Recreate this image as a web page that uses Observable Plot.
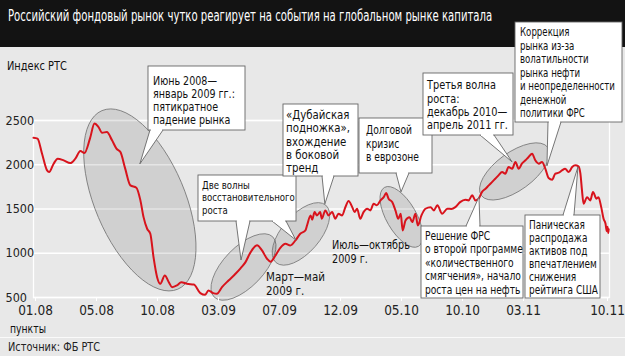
<!DOCTYPE html>
<html><head><meta charset="utf-8">
<script src="https://cdn.jsdelivr.net/npm/d3@7"></script>
<script src="https://cdn.jsdelivr.net/npm/@observablehq/plot@0.6"></script>
<style>
html,body{margin:0;padding:0;background:#e8e8e8;}
#wrap{position:relative;width:625px;height:356px;overflow:hidden;background:#e8e8e8;
  font-family:"Liberation Sans Narrow","DejaVu Sans Condensed","Arial Narrow",sans-serif;}
#title{height:47px;background:#131313;color:#fff;box-sizing:border-box;padding:6px 0 0 8px;font-size:16px;white-space:nowrap;}
#title span,#source span{display:inline-block;transform-origin:0 50%;white-space:nowrap;}
#chart svg{display:block;overflow:visible;}
#source{position:absolute;left:0;top:337px;width:625px;height:19px;border-top:1.5px solid #fafafa;
  box-sizing:border-box;padding-left:8px;font-size:13px;line-height:17px;color:#222;}
</style></head>
<body>
<div id="wrap">
  <div id="title"><span data-fit="484">Российский фондовый рынок чутко реагирует на события на глобальном рынке капитала</span></div>
  <div id="chart"></div>
  <div id="source"><span data-fit="92">Источник: ФБ РТС</span></div>
</div>
<script>
// ---------- data ----------
const dates = ["2007-12-28","2008-01-05","2008-01-14","2008-01-24","2008-01-28","2008-02-06","2008-02-14","2008-02-26","2008-03-10","2008-03-20","2008-03-30","2008-04-07","2008-04-18","2008-04-27","2008-05-06","2008-05-15","2008-05-27","2008-06-09","2008-06-20","2008-06-30","2008-07-12","2008-07-25","2008-08-09","2008-08-19","2008-08-27","2008-09-05","2008-09-13","2008-09-21","2008-09-30","2008-10-08","2008-10-19","2008-10-29","2008-11-06","2008-11-18","2008-11-29","2008-12-13","2008-12-30","2009-01-15","2009-01-27","2009-02-04","2009-02-16","2009-02-25","2009-03-08","2009-03-21","2009-04-04","2009-04-14","2009-04-24","2009-05-04","2009-05-17","2009-05-27","2009-06-06","2009-06-13","2009-06-23","2009-07-03","2009-07-16","2009-07-28","2009-08-10","2009-08-22","2009-09-04","2009-09-08","2009-09-17","2009-09-21","2009-09-27","2009-10-03","2009-10-11","2009-10-15","2009-10-24","2009-11-01","2009-11-10","2009-11-18","2009-11-26","2009-12-05","2009-12-13","2009-12-21","2009-12-30","2010-01-05","2010-01-11","2010-01-19","2010-01-27","2010-02-05","2010-02-13","2010-02-21","2010-03-01","2010-03-10","2010-03-18","2010-03-24","2010-03-30","2010-04-08","2010-04-16","2010-04-23","2010-04-29","2010-05-04","2010-05-11","2010-05-21","2010-05-28","2010-06-05","2010-06-11","2010-06-20","2010-06-30","2010-07-13","2010-07-21","2010-07-30","2010-08-11","2010-08-24","2010-09-03","2010-09-13","2010-09-25","2010-10-08","2010-10-16","2010-10-25","2010-11-02","2010-11-10","2010-11-18","2010-11-27","2010-12-05","2010-12-13","2010-12-21","2010-12-29","2011-01-07","2011-01-15","2011-01-23","2011-02-01","2011-02-09","2011-02-17","2011-02-25","2011-03-06","2011-03-14","2011-03-23","2011-03-31","2011-04-09","2011-04-17","2011-04-26","2011-05-04","2011-05-13","2011-05-21","2011-05-30","2011-06-07","2011-06-15","2011-06-24","2011-07-03","2011-07-11","2011-07-19","2011-07-24","2011-07-28","2011-08-01","2011-08-10","2011-08-18","2011-08-25","2011-09-03","2011-09-08","2011-09-15","2011-09-21","2011-09-26","2011-09-29","2011-10-01","2011-10-03","2011-10-04"];
const values = [2306,2295,2125,1936,1917,2012,2069,2050,2019,2069,2155,2132,2295,2465,2426,2362,2370,2276,2182,2143,1956,1767,1741,1600,1408,1277,1220,956,730,655,749,673,617,636,673,655,647,549,530,579,549,542,617,692,768,830,900,1010,1090,1032,938,905,975,1060,1107,1088,1145,1220,1258,1314,1427,1379,1465,1427,1465,1390,1484,1427,1465,1390,1447,1427,1520,1590,1521,1465,1503,1390,1465,1503,1484,1560,1541,1597,1634,1680,1616,1578,1484,1390,1447,1258,1371,1408,1352,1447,1314,1427,1503,1521,1484,1541,1447,1503,1500,1521,1578,1605,1597,1654,1597,1616,1691,1729,1767,1804,1842,1880,1917,1899,1974,1955,2030,1955,2012,2050,2087,2125,2050,2012,2030,1950,1850,1830,1900,1910,1936,1955,1917,1974,1993,1982,1899,1710,1560,1634,1597,1691,1616,1634,1521,1390,1333,1250,1300,1230,1270];
const xTickDates = ["2008-01-01","2008-05-01","2008-10-01","2009-03-01","2009-07-01","2009-12-01","2010-05-01","2010-10-01","2011-03-01","2011-10-01"];
const xTickLabels = ["01.08","05.08","10.08","03.09","07.09","12.09","05.10","10.10","03.11","10.11"];
const yTicks = [500, 1000, 1500, 2000, 2500];
const yTitle = "Индекс РТС";
const unitLabel = "пункты";

// annotation texts
const noteJune = ["Июнь 2008—", "январь 2009 гг.:", "пятикратное", "падение рынка"];
const noteTwoWaves = ["Две волны", "восстановительного", "роста"];
const noteDubai = ["«Дубайская", "подножка»,", "вхождение", "в боковой", "тренд"];
const noteDebt = ["Долговой", "кризис", "в еврозоне"];
const noteThird = ["Третья волна", "роста:", "декабрь 2010—", "апрель 2011 гг."];
const noteCorr = ["Коррекция", "рынка из-за", "волатильности", "рынка нефти", "и неопределенности", "денежной", "политики ФРС"];
const noteFed = ["Решение ФРС", "о второй программе", "«количественного", "смягчения», начало", "роста цен на нефть"];
const notePanic = ["Паническая", "распродажа", "активов под", "впечатлением", "снижения", "рейтинга США"];
const labelMarch = ["Март—май", "2009 г."];
const labelJuly = ["Июль—октябрь", "2009 г."];

// highlighted periods (centre date, centre value)
const periodDates = ["2008-08-19", "2009-04-21", "2009-08-25", "2010-05-02", "2011-02-08"];
const periodValues = [1597, 839, 1213, 1405, 1919];

// ---------- layout (page px) ----------
const OFF = 47;                 // svg top on page
const tickPx = [35, 96, 157, 218, 279, 340, 401, 462, 523, 607];
const ellipseShape = [[97, 45, 67], [42, 20, -46], [38, 19, -49], [34, 15, 60], [41, 19, -36]];
const boxes = [
  {lines: noteJune, b: [148, 66, 245, 130], tx: 153, ty: 81, lh: 13, fit: 82, size: 11.5,
   ptr: [{side: 1, base: [150, 163], tip: ["2008-08-19", 2004]}]},
  {lines: noteTwoWaves, b: [198, 175, 296, 221], tx: 202, ty: 185, lh: 12.5, fit: 93, size: 11,
   ptr: [{side: 1, base: [236, 250], tip: ["2009-04-16", 918]}, {side: 1, base: [272, 286], tip: ["2009-08-12", 1145]}]},
  {lines: noteDubai, b: [283, 104, 358, 176], tx: 286, ty: 115, lh: 13.3, fit: 64, size: 11.5,
   ptr: [{side: 1, base: [322, 334], tip: ["2009-10-24", 1552]}]},
  {lines: noteDebt, b: [359, 118, 432, 173], tx: 366, ty: 130, lh: 13.5, fit: 53, size: 11.5,
   ptr: [{side: 1, base: [396, 409], tip: ["2010-05-01", 1688]}]},
  {lines: noteThird, b: [423, 73, 513, 135], tx: 427, ty: 85, lh: 13.4, fit: 82, size: 11.5,
   ptr: [{side: 1, base: [480, 494], tip: ["2011-02-02", 2027]}]},
  {lines: noteCorr, b: [515, 22, 622, 122], tx: 520, ty: 32, lh: 13.5, fit: 95, size: 11.5,
   ptr: [{side: 1, base: [548, 561], tip: ["2011-05-01", 1982]}]},
  {lines: noteFed, b: [421, 226, 523, 298], tx: 425, ty: 235.5, lh: 13.5, fit: 98, size: 11.5,
   ptr: [{side: 0, base: [466, 480], tip: ["2010-11-12", 1631]}]},
  {lines: notePanic, b: [525, 215, 600, 298], tx: 529, ty: 225, lh: 13, fit: 69, size: 11.5,
   ptr: [{side: 0, base: [563, 574], tip: ["2011-07-19", 1970]}]}
];
const freeLabels = [
  {lines: labelMarch, tx: 266, ty: 276.5, lh: 14, fit: 59, size: 12},
  {lines: labelJuly, tx: 332, ty: 245, lh: 14, fit: 78, size: 12},
  {lines: [yTitle], tx: 7, ty: 65, lh: 0, fit: 60, size: 13},
  {lines: [unitLabel], tx: 10, ty: 329, lh: 0, fit: 36, size: 12}
];

const FONT = '"Liberation Sans Narrow","DejaVu Sans Condensed","Arial Narrow",sans-serif';
const table = dates.map((d, i) => ({date: new Date(d), value: values[i]}));
const tickDateObjs = xTickDates.map(d => new Date(d));
const labelByTime = new Map(tickDateObjs.map((d, i) => [+d, xTickLabels[i]]));

function addText(g, lines, left, firstY, lh, fit, size) {
  const t = g.append("text").attr("x", left).attr("font-size", size).attr("text-anchor", "start")
    .attr("fill", "#111").attr("data-fit", fit).attr("data-ax", left);
  lines.forEach((s, i) => t.append("tspan").attr("x", left)
    .attr("y", firstY - OFF + i * lh).attr("dy", "0.36em").text(s));
}

function ellipsesMark(index, scales) {
  const g = d3.create("svg:g");
  periodDates.forEach((d, i) => {
    const [rx, ry, a] = ellipseShape[i];
    g.append("ellipse")
      .attr("transform", `translate(${scales.x(new Date(d))},${scales.y(periodValues[i])}) rotate(${a})`)
      .attr("rx", rx).attr("ry", ry)
      .attr("fill", "rgba(0,0,0,0.1)").attr("stroke", "#777").attr("stroke-width", 0.8);
  });
  return g.node();
}

function notesMark(index, scales) {
  const g = d3.create("svg:g").attr("font-family", FONT);
  for (const bx of boxes) {
    const [x0, y0p, x1, y1p] = bx.b;
    const y0 = y0p - OFF, y1 = y1p - OFF;
    const bg = g.append("g");
    for (const p of bx.ptr) {
      const tx = scales.x(new Date(p.tip[0])), ty = scales.y(p.tip[1]);
      const by = p.side ? y1 : y0;
      bg.append("path").attr("d", `M${p.base[0]},${by}L${tx},${ty}L${p.base[1]},${by}`)
        .attr("fill", "#fff").attr("stroke", "#666").attr("stroke-width", 0.9);
    }
    bg.append("rect").attr("x", x0).attr("y", y0).attr("width", x1 - x0).attr("height", y1 - y0)
      .attr("fill", "#fff").attr("stroke", "#666").attr("stroke-width", 0.9);
    for (const p of bx.ptr) {
      const by = p.side ? y1 : y0;
      bg.append("line").attr("x1", p.base[0] + 0.9).attr("x2", p.base[1] - 0.9)
        .attr("y1", by).attr("y2", by).attr("stroke", "#fff").attr("stroke-width", 2);
    }
    addText(bg, bx.lines, bx.tx, bx.ty, bx.lh, bx.fit, bx.size);
  }
  for (const l of freeLabels) addText(g, l.lines, l.tx, l.ty, l.lh, l.fit, l.size);
  return g.node();
}

const chart = Plot.plot({
  width: 625, height: 291,
  marginTop: 120 - OFF, marginBottom: 291 - (297 - OFF), marginLeft: 33, marginRight: 16,
  style: {background: "transparent", overflow: "visible", fontFamily: FONT, fontSize: "13px", color: "#222"},
  x: {type: "utc", domain: tickDateObjs, range: tickPx},
  y: {domain: [500, 2500], axis: null},
  marks: [
    Plot.ruleY(yTicks, {stroke: "#fff", strokeWidth: 1.3}),
    Plot.frame({stroke: "#fff", strokeWidth: 1.3}),
    ellipsesMark,
    Plot.line(table, {x: "date", y: "value", stroke: "#d8131c", strokeWidth: 2, curve: "monotone-x"}),
    Plot.axisX({ticks: tickDateObjs, tickFormat: d => labelByTime.get(+d), tickSize: 4, tickPadding: 4,
      stroke: "#fff", fill: "#222", fontSize: 13.5, label: null}),
    Plot.text(yTicks, {y: d => d, frameAnchor: "left", textAnchor: "start", dx: -28,
      text: d => String(d), fontSize: 12.5, fill: "#222"}),
    notesMark
  ]
});
document.getElementById("chart").appendChild(chart);

function fitAll() {
  document.querySelectorAll("text[data-fit]").forEach(el => {
    el.removeAttribute("transform");
    const w = el.getBBox().width, ax = +el.dataset.ax, s = (+el.dataset.fit) / w;
    el.setAttribute("transform", `translate(${ax},0) scale(${s},1) translate(${-ax},0)`);
  });
  document.querySelectorAll("span[data-fit]").forEach(el => {
    el.style.transform = "none";
    const w = el.offsetWidth;
    el.style.transform = `scaleX(${(+el.dataset.fit) / w})`;
  });
}
fitAll();
if (document.fonts && document.fonts.ready) document.fonts.ready.then(fitAll);
</script>
</body></html>
